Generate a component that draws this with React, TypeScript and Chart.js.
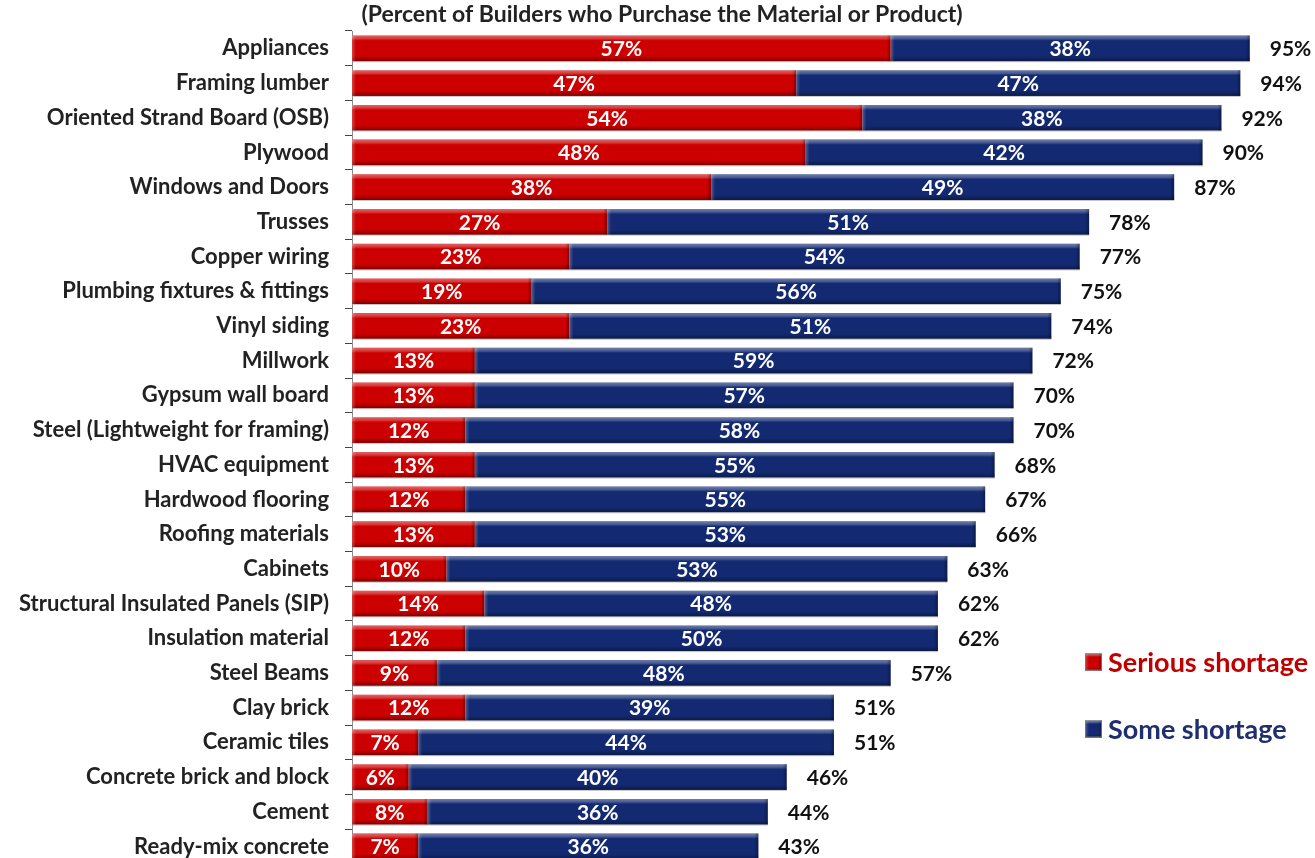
import { useEffect, useRef } from 'react';
import { Chart, registerables } from 'chart.js';
Chart.register(...registerables);

const categories = [
  'Appliances', 'Framing lumber', 'Oriented Strand Board (OSB)', 'Plywood', 'Windows and Doors',
  'Trusses', 'Copper wiring', 'Plumbing fixtures & fittings', 'Vinyl siding', 'Millwork',
  'Gypsum wall board', 'Steel (Lightweight for framing)', 'HVAC equipment', 'Hardwood flooring',
  'Roofing materials', 'Cabinets', 'Structural Insulated Panels (SIP)', 'Insulation material',
  'Steel Beams', 'Clay brick', 'Ceramic tiles', 'Concrete brick and block', 'Cement', 'Ready-mix concrete',
];
const serious = [57, 47, 54, 48, 38, 27, 23, 19, 23, 13, 13, 12, 13, 12, 13, 10, 14, 12, 9, 12, 7, 6, 8, 7];
const some = [38, 47, 38, 42, 49, 51, 54, 56, 51, 59, 57, 58, 55, 55, 53, 53, 48, 50, 48, 39, 44, 40, 36, 36];
const totals = [95, 94, 92, 90, 87, 78, 77, 75, 74, 72, 70, 70, 68, 67, 66, 63, 62, 62, 57, 51, 51, 46, 44, 43];
const titleText = '(Percent of Builders who Purchase the Material or Product)';
const seriesNames = ['Serious shortage', 'Some shortage'];
const seriesColors = ['#CC0000', '#132A72'];
const legendTextColors = ['#C00000', '#1F2F6E'];

const FONT = 'Lato, "Open Sans", sans-serif';

function shade(ctx: CanvasRenderingContext2D, x0: number, y0: number, w: number, h: number) {
  const g = ctx.createLinearGradient(0, y0, 0, y0 + h);
  g.addColorStop(0, 'rgba(255,255,255,0.40)');
  g.addColorStop(0.12, 'rgba(255,255,255,0.22)');
  g.addColorStop(0.2, 'rgba(255,255,255,0.0)');
  g.addColorStop(0.8, 'rgba(0,0,0,0)');
  g.addColorStop(0.9, 'rgba(0,0,0,0.18)');
  g.addColorStop(1, 'rgba(0,0,0,0.4)');
  ctx.fillStyle = g;
  ctx.fillRect(x0, y0, w, h);
  const rg = ctx.createLinearGradient(x0 + w - 4, 0, x0 + w, 0);
  rg.addColorStop(0, 'rgba(0,0,0,0)');
  rg.addColorStop(1, 'rgba(0,0,0,0.35)');
  ctx.fillStyle = rg;
  ctx.fillRect(x0 + w - 4, y0, 4, h);
  const lg = ctx.createLinearGradient(x0, 0, x0 + 4, 0);
  lg.addColorStop(0, 'rgba(255,255,255,0.25)');
  lg.addColorStop(1, 'rgba(255,255,255,0)');
  ctx.fillStyle = lg;
  ctx.fillRect(x0, y0, 4, h);
}

const overlayPlugin = {
  id: 'overlay',
  afterDatasetsDraw(chart: any) {
    const ctx: CanvasRenderingContext2D = chart.ctx;
    ctx.save();
    chart.data.datasets.forEach((ds: any, di: number) => {
      const meta = chart.getDatasetMeta(di);
      meta.data.forEach((el: any) => {
        const { x, y, base, height } = el.getProps(['x', 'y', 'base', 'height'], true);
        const left = Math.min(x, base);
        const w = Math.abs(x - base);
        shade(ctx, left, y - height / 2, w, height);
        ctx.fillStyle = 'rgba(160,160,160,0.6)';
        ctx.fillRect(left, y + height / 2, w, 1);
      });
    });
    ctx.font = `bold 21px ${FONT}`;
    ctx.textBaseline = 'middle';
    chart.data.datasets.forEach((ds: any, di: number) => {
      const meta = chart.getDatasetMeta(di);
      meta.data.forEach((el: any, i: number) => {
        const { x, y, base } = el.getProps(['x', 'y', 'base'], true);
        ctx.fillStyle = '#FFFFFF';
        ctx.textAlign = 'center';
        ctx.fillText(`${ds.data[i]}%`, (x + base) / 2, y + 1);
      });
    });
    const last = chart.getDatasetMeta(1);
    last.data.forEach((el: any, i: number) => {
      const { x, y } = el.getProps(['x', 'y'], true);
      ctx.fillStyle = '#111111';
      ctx.textAlign = 'left';
      ctx.fillText(`${totals[i]}%`, x + 20, y + 1);
    });
    ctx.restore();
  },
  afterDraw(chart: any) {
    const ctx: CanvasRenderingContext2D = chart.ctx;
    ctx.save();
    ctx.font = `bold 23px ${FONT}`;
    ctx.fillStyle = '#222222';
    ctx.textAlign = 'center';
    ctx.textBaseline = 'middle';
    ctx.fillText(titleText, 662, 15);
    const items = [
      { y: 662, i: 0 },
      { y: 729, i: 1 },
    ];
    ctx.font = `bold 27px ${FONT}`;
    items.forEach(({ y, i }) => {
      const sx = 1085, s = 17;
      ctx.fillStyle = seriesColors[i];
      ctx.fillRect(sx, y - s / 2, s, s);
      shade(ctx, sx, y - s / 2, s, s);
      ctx.strokeStyle = 'rgba(120,120,120,0.9)';
      ctx.strokeRect(sx + 0.5, y - s / 2 + 0.5, s - 1, s - 1);
      ctx.fillStyle = legendTextColors[i];
      ctx.textAlign = 'left';
      ctx.fillText(seriesNames[i], 1108, y + 1);
    });
    ctx.restore();
  },
};

export default function App() {
  const ref = useRef<HTMLCanvasElement>(null);
  useEffect(() => {
    if (!ref.current) return;
    const chart = new Chart(ref.current, {
      type: 'bar',
      data: {
        labels: categories,
        datasets: [
          { label: seriesNames[0], data: serious, backgroundColor: seriesColors[0], borderWidth: 0, categoryPercentage: 0.74, barPercentage: 1 },
          { label: seriesNames[1], data: some, backgroundColor: seriesColors[1], borderWidth: 0, categoryPercentage: 0.74, barPercentage: 1 },
        ],
      },
      options: {
        indexAxis: 'y',
        animation: false,
        responsive: false,
        devicePixelRatio: 1,
        layout: { padding: { top: 31, right: 18, bottom: 0, left: 0 } },
        plugins: { legend: { display: false }, tooltip: { enabled: false }, title: { display: false } },
        scales: {
          x: { stacked: true, display: false, min: 0, max: 100 },
          y: {
            stacked: true,
            afterFit: (scale: any) => { scale.width = 352; },
            grid: { drawOnChartArea: false, drawTicks: true, tickLength: 7, offset: true, color: '#444' },
            border: { display: true, color: '#8a8a8a', width: 1 },
            ticks: { color: '#222222', padding: 16, font: { family: FONT, size: 22, weight: 'bold' } },
          },
        },
      },
      plugins: [overlayPlugin],
    } as any);
    return () => chart.destroy();
  }, []);
  return (
    <div style={{ position: 'fixed', top: 0, left: 0, width: 1315, height: 858, overflow: 'hidden', background: '#fff' }}>
      <canvas ref={ref} width={1315} height={893} style={{ display: 'block', width: 1315, height: 893 }} />
    </div>
  );
}
